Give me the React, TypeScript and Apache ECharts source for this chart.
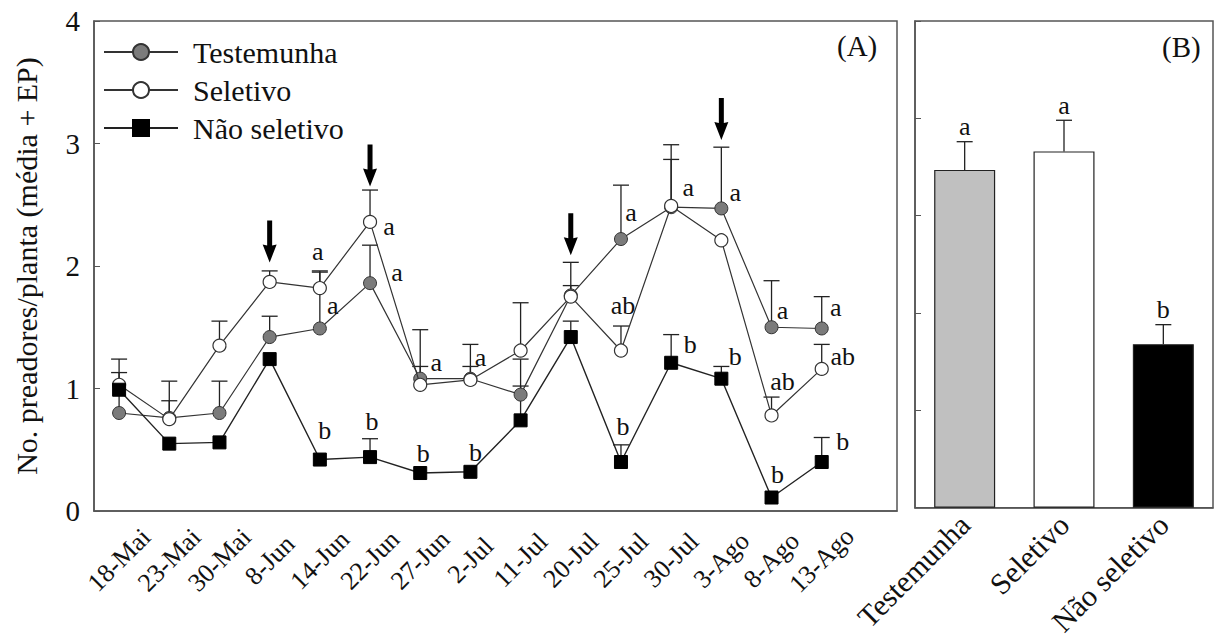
import React, { useEffect, useRef } from "react";
import * as echarts from "echarts";

const FONT = "Liberation Serif";

const dates = ["18-Mai","23-Mai","30-Mai","8-Jun","14-Jun","22-Jun","27-Jun","2-Jul","11-Jul","20-Jul","25-Jul","30-Jul","3-Ago","8-Ago","13-Ago"];
const testemunha = [0.80, 0.76, 0.80, 1.42, 1.49, 1.86, 1.08, 1.08, 0.95, 1.76, 2.22, 2.48, 2.47, 1.50, 1.49];
const testemunhaUp = [1.13, 0.90, 1.06, 1.59, 1.96, 2.17, 1.18, 1.36, 1.24, 2.03, 2.66, 2.87, 2.97, 1.88, 1.75];
const seletivo = [1.03, 0.75, 1.35, 1.87, 1.82, 2.36, 1.03, 1.07, 1.31, 1.75, 1.31, 2.49, 2.21, 0.78, 1.16];
const seletivoUp = [1.24, 1.06, 1.55, 1.96, 1.95, 2.62, 1.48, 1.18, 1.70, 1.84, 1.51, 2.99, null, 0.93, 1.36];
const naoSeletivo = [0.99, 0.55, 0.56, 1.24, 0.42, 0.44, 0.31, 0.32, 0.74, 1.42, 0.40, 1.21, 1.08, 0.11, 0.40];
const naoSeletivoUp = [null, null, null, null, null, 0.59, null, null, 1.02, 1.55, 0.54, 1.44, 1.18, null, 0.60];

// applications (arrows): [date index, arrow mid value]
const arrows = [[3, 2.20], [5, 2.82], [9, 2.26], [12, 3.20]];

// significance letters: [date index, value, text]
const letterIdx = [4, 4, 4, 5, 5, 5, 6, 6, 7, 7, 10, 10, 10, 11, 11, 12, 12, 13, 13, 13, 14, 14, 14];
const letterVal = [2.12, 1.68, 0.66, 2.32, 1.95, 0.73, 1.21, 0.47, 1.25, 0.48, 2.44, 1.68, 0.69, 2.64, 1.36, 2.60, 1.26, 1.64, 1.06, 0.30, 1.66, 1.26, 0.57];
const letterText = ["a", "a", "b", "a", "a", "b", "a", "b", "a", "b", "a", "ab", "b", "a", "b", "a", "b", "a", "ab", "b", "a", "ab", "b"];
const letterDx = [-2, 13, 5, 19, 27, 2, 16, 3, 10, 5, 10, 2, 2, 17, 19, 14, 14, 11, 11, 6, 14, 21, 21];

const treatments = ["Testemunha", "Seletivo", "Não seletivo"];
const barMeans = [1.735, 1.83, 0.84];
const barUp = [1.88, 1.99, 0.94];
const barLetters = ["a", "a", "b"];

function errData(means: number[], ups: (number | null)[]) {
  const out: number[][] = [];
  means.forEach((m, i) => {
    const u = ups[i];
    if (u !== null && u !== undefined) out.push([i, m, u]);
  });
  return out;
}

function errRender(params: any, api: any) {
  const i = api.value(0);
  const m = api.value(1);
  const u = api.value(2);
  const p0 = api.coord([i, m]);
  const p1 = api.coord([i, u]);
  const st = { stroke: "#222", lineWidth: 1.3 };
  return {
    type: "group",
    children: [
      { type: "line", shape: { x1: p0[0], y1: p0[1], x2: p1[0], y2: p1[1] }, style: st },
      { type: "line", shape: { x1: p1[0] - 8, y1: p1[1], x2: p1[0] + 8, y2: p1[1] }, style: st },
    ],
  };
}

export default function App() {
  const ref = useRef<HTMLDivElement>(null);
  useEffect(() => {
    if (!ref.current) return;
    const chart = echarts.init(ref.current, null, { renderer: "svg" });
    const axisColor = "#555";
    const xCats = [...dates, ""];
    const option: any = {
      animation: false,
      backgroundColor: "#fff",
      textStyle: { fontFamily: FONT },
      grid: [
        { left: 94, right: 320, top: 21, bottom: 128, show: true, borderColor: axisColor, borderWidth: 1.5, backgroundColor: "transparent" },
        { left: 915, right: 4, top: 21, bottom: 128, show: true, borderColor: axisColor, borderWidth: 1.5, backgroundColor: "transparent" },
      ],
      legend: {
        data: ["Testemunha", "Seletivo", "Não seletivo"],
        orient: "vertical",
        left: 98,
        top: 32,
        itemWidth: 74,
        itemHeight: 20,
        itemGap: 8,
        textStyle: { fontFamily: FONT, fontSize: 30, color: "#111", padding: [0, 0, 0, 10] },
      },
      xAxis: [
        {
          type: "category",
          gridIndex: 0,
          data: xCats,
          boundaryGap: true,
          axisLine: { lineStyle: { color: axisColor, width: 1.5 } },
          axisTick: { alignWithLabel: true, length: 6, lineStyle: { color: axisColor }, interval: (i: number) => i < dates.length },
          axisLabel: { rotate: 45, interval: 0, align: "center", verticalAlign: "middle", fontFamily: FONT, fontSize: 26, color: "#111", margin: 49 },
          splitLine: { show: false },
        },
        {
          type: "category",
          gridIndex: 1,
          data: treatments,
          boundaryGap: true,
          axisLine: { lineStyle: { color: axisColor, width: 1.5 } },
          axisTick: { alignWithLabel: true, length: 6, lineStyle: { color: axisColor } },
          axisLabel: { rotate: 45, interval: 0, fontFamily: FONT, fontSize: 30, color: "#111", margin: 12 },
        },
      ],
      yAxis: [
        {
          type: "value",
          gridIndex: 0,
          min: 0,
          max: 4,
          interval: 1,
          name: "No. preadores/planta (média + EP)",
          nameLocation: "middle",
          nameGap: 53,
          nameTextStyle: { fontFamily: FONT, fontSize: 30, color: "#111" },
          axisLine: { show: true, lineStyle: { color: axisColor, width: 1.5 } },
          axisTick: { show: true, inside: true, length: 6, lineStyle: { color: axisColor } },
          axisLabel: { fontFamily: FONT, fontSize: 29, color: "#111", margin: 14 },
          splitLine: { show: false },
        },
        {
          type: "value",
          gridIndex: 1,
          min: 0,
          max: 2.5,
          interval: 0.5,
          axisLine: { show: true, lineStyle: { color: axisColor, width: 1.5 } },
          axisTick: { show: true, inside: true, length: 6, lineStyle: { color: axisColor } },
          axisLabel: { show: false },
          splitLine: { show: false },
        },
      ],
      series: [
        {
          type: "custom",
          name: "errA",
          xAxisIndex: 0,
          yAxisIndex: 0,
          z: 1,
          renderItem: errRender,
          data: [
            ...errData(testemunha, testemunhaUp),
            ...errData(seletivo, seletivoUp),
            ...errData(naoSeletivo, naoSeletivoUp),
          ],
        },
        {
          type: "line",
          name: "Testemunha",
          xAxisIndex: 0,
          yAxisIndex: 0,
          z: 2,
          data: testemunha,
          symbol: "circle",
          symbolSize: 13,
          lineStyle: { color: "#333", width: 1.2 },
          itemStyle: { color: "#7b7b7b", borderColor: "#333", borderWidth: 1 },
        },
        {
          type: "line",
          name: "Seletivo",
          xAxisIndex: 0,
          yAxisIndex: 0,
          z: 3,
          data: seletivo,
          symbol: "circle",
          symbolSize: 13,
          lineStyle: { color: "#333", width: 1.2 },
          itemStyle: { color: "#fff", borderColor: "#333", borderWidth: 1.2 },
        },
        {
          type: "line",
          name: "Não seletivo",
          xAxisIndex: 0,
          yAxisIndex: 0,
          z: 4,
          data: naoSeletivo,
          symbol: "rect",
          symbolSize: 13,
          lineStyle: { color: "#222", width: 1.4 },
          itemStyle: { color: "#000", borderColor: "#000", borderWidth: 1 },
        },
        {
          type: "scatter",
          name: "arrows",
          xAxisIndex: 0,
          yAxisIndex: 0,
          z: 5,
          data: arrows,
          symbol: "path://M4.5,0 L9.5,0 L9.5,25 L14,24 L7,42 L0,24 L4.5,25 Z",
          symbolSize: [14, 42],
          itemStyle: { color: "#000", opacity: 1 },
        },
        {
          type: "custom",
          name: "lettersA",
          xAxisIndex: 0,
          yAxisIndex: 0,
          z: 6,
          data: letterIdx.map((x, k) => [x, letterVal[k]]),
          renderItem: (params: any, api: any) => {
            const k = params.dataIndex;
            const p = api.coord([api.value(0), api.value(1)]);
            return {
              type: "text",
              x: p[0] + letterDx[k],
              y: p[1],
              style: { text: letterText[k], font: `26px "${FONT}"`, fill: "#111", align: "center", verticalAlign: "middle" },
            };
          },
        },
        {
          type: "bar",
          name: "barsB",
          xAxisIndex: 1,
          yAxisIndex: 1,
          z: 2,
          barWidth: 61,
          data: barMeans.map((v, i) => ({
            value: v,
            itemStyle: { color: ["#c0c0c0", "#ffffff", "#000000"][i], borderColor: "#222", borderWidth: 1.2 },
          })),
        },
        {
          type: "custom",
          name: "errB",
          xAxisIndex: 1,
          yAxisIndex: 1,
          z: 1,
          data: errData(barMeans, barUp),
          renderItem: (params: any, api: any) => {
            const g: any = errRender(params, api);
            const p1 = api.coord([api.value(0), api.value(2)]);
            g.children.push({
              type: "text",
              x: p1[0],
              y: p1[1] - 15,
              style: { text: barLetters[params.dataIndex], font: `26px "${FONT}"`, fill: "#111", align: "center", verticalAlign: "middle" },
            });
            return g;
          },
        },
      ],
      graphic: [
        { type: "text", left: 837, top: 31, style: { text: "(A)", font: `29px "${FONT}"`, fill: "#111" } },
        { type: "text", left: 1162, top: 32, style: { text: "(B)", font: `29px "${FONT}"`, fill: "#111" } },
      ],
    };
    chart.setOption(option);
    return () => chart.dispose();
  }, []);
  return <div ref={ref} style={{ position: "fixed", left: 0, top: 0, width: 1217, height: 639, background: "#fff" }} />;
}
